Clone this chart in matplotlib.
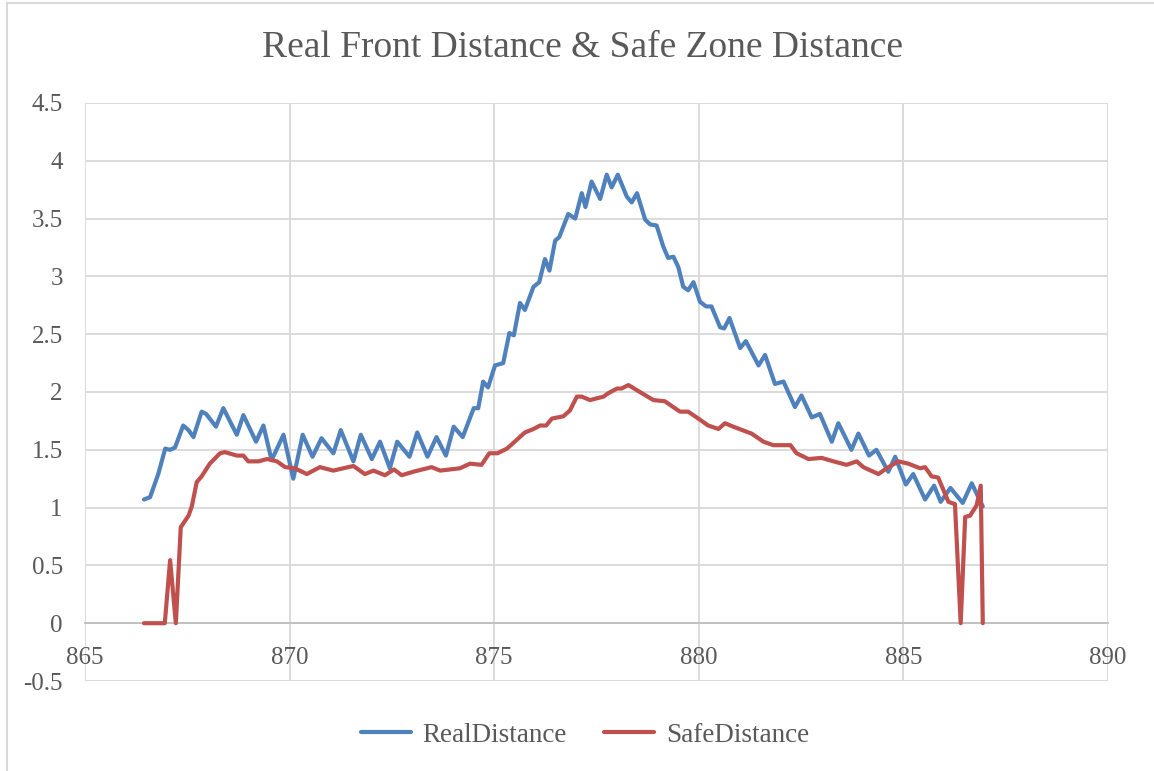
import matplotlib
matplotlib.use("Agg")
import matplotlib.pyplot as plt
from matplotlib.lines import Line2D

# time (s) and distance (m)
real_t = [866.44, 866.59, 866.79, 866.96, 867.08, 867.20, 867.40, 867.53, 867.65, 867.85,
          867.96, 868.20, 868.38, 868.71, 868.87, 869.18, 869.36, 869.56, 869.85, 870.09,
          870.32, 870.56, 870.78, 871.07, 871.25, 871.56, 871.74, 872.01, 872.21, 872.45,
          872.63, 872.93, 873.12, 873.37, 873.59, 873.82, 874.01, 874.23, 874.50, 874.61,
          874.73, 874.85, 875.02, 875.22, 875.37, 875.48, 875.63, 875.75, 875.96, 876.10,
          876.24, 876.35, 876.49, 876.59, 876.81, 876.98, 877.14, 877.23, 877.38, 877.59,
          877.75, 877.87, 878.02, 878.24, 878.36, 878.49, 878.69, 878.81, 878.97, 879.13,
          879.25, 879.38, 879.50, 879.62, 879.74, 879.87, 880.03, 880.18, 880.31, 880.52,
          880.62, 880.75, 881.01, 881.15, 881.46, 881.62, 881.86, 882.07, 882.35, 882.51,
          882.76, 882.96, 883.25, 883.41, 883.73, 883.90, 884.16, 884.34, 884.63, 884.80,
          885.06, 885.24, 885.53, 885.75, 885.91, 886.15, 886.45, 886.67, 886.94]
real_d = [1.07, 1.09, 1.29, 1.51, 1.50, 1.52, 1.71, 1.67, 1.61, 1.83,
          1.81, 1.70, 1.86, 1.63, 1.80, 1.57, 1.71, 1.41, 1.63, 1.25,
          1.63, 1.44, 1.60, 1.47, 1.67, 1.40, 1.63, 1.42, 1.57, 1.34,
          1.57, 1.44, 1.65, 1.44, 1.61, 1.45, 1.70, 1.61, 1.86, 1.86,
          2.09, 2.04, 2.23, 2.25, 2.51, 2.49, 2.77, 2.71, 2.91, 2.95,
          3.15, 3.05, 3.31, 3.34, 3.54, 3.50, 3.72, 3.60, 3.82, 3.67,
          3.88, 3.77, 3.88, 3.69, 3.64, 3.72, 3.49, 3.45, 3.44, 3.26,
          3.16, 3.17, 3.08, 2.91, 2.88, 2.95, 2.78, 2.74, 2.74, 2.56,
          2.55, 2.64, 2.38, 2.44, 2.23, 2.32, 2.07, 2.09, 1.87, 1.97,
          1.78, 1.81, 1.57, 1.73, 1.50, 1.64, 1.45, 1.50, 1.31, 1.44,
          1.20, 1.29, 1.07, 1.19, 1.05, 1.17, 1.04, 1.21, 1.01]

safe_t = [866.44, 866.87, 866.95, 867.08, 867.22, 867.34, 867.53, 867.61, 867.73, 867.85,
          868.05, 868.30, 868.42, 868.71, 868.87, 868.99, 869.24, 869.45, 869.69, 869.89,
          870.13, 870.42, 870.74, 871.07, 871.31, 871.56, 871.84, 872.05, 872.33, 872.55,
          872.74, 873.02, 873.47, 873.68, 874.16, 874.41, 874.69, 874.88, 875.08, 875.31,
          875.47, 875.75, 875.96, 876.12, 876.27, 876.41, 876.69, 876.85, 877.02, 877.14,
          877.34, 877.67, 877.79, 878.00, 878.11, 878.28, 878.56, 878.89, 879.17, 879.54,
          879.74, 880.03, 880.23, 880.48, 880.64, 880.84, 881.29, 881.58, 881.82, 881.98,
          882.24, 882.39, 882.68, 883.00, 883.29, 883.61, 883.86, 884.02, 884.39, 884.59,
          884.88, 885.12, 885.41, 885.53, 885.69, 885.85, 886.10, 886.26, 886.40, 886.51,
          886.63, 886.79, 886.89, 886.94]
safe_d = [0.0, 0.0, 0.0, 0.545, 0.0, 0.83, 0.93, 1.01, 1.22, 1.27,
          1.38, 1.47, 1.48, 1.45, 1.45, 1.40, 1.40, 1.42, 1.40, 1.35,
          1.34, 1.29, 1.35, 1.32, 1.34, 1.36, 1.29, 1.32, 1.28, 1.33,
          1.28, 1.31, 1.35, 1.32, 1.34, 1.38, 1.37, 1.47, 1.47, 1.51,
          1.56, 1.65, 1.68, 1.71, 1.71, 1.77, 1.79, 1.84, 1.96, 1.96,
          1.93, 1.96, 1.99, 2.03, 2.03, 2.06, 2.00, 1.93, 1.92, 1.83,
          1.83, 1.76, 1.71, 1.68, 1.73, 1.70, 1.64, 1.57, 1.54, 1.54,
          1.54, 1.47, 1.42, 1.43, 1.40, 1.37, 1.40, 1.35, 1.29, 1.34,
          1.40, 1.38, 1.34, 1.35, 1.27, 1.26, 1.05, 1.03, 0.0, 0.92,
          0.93, 1.02, 1.19, 0.0]

x_ticks = [865, 870, 875, 880, 885, 890]
y_ticks = [-0.5, 0, 0.5, 1, 1.5, 2, 2.5, 3, 3.5, 4, 4.5]

plt.rcParams['font.family'] = ['Liberation Serif', 'DejaVu Serif']
grey_txt = '#595959'
grid_col = '#D9D9D9'

fig = plt.figure(figsize=(11.54, 7.71), dpi=100)
ax = fig.add_axes([85 / 1154, 1 - 681 / 771, (1108 - 85) / 1154, (681 - 103) / 771])

ax.plot(real_t, real_d, color='#4F81BD', lw=3.0, solid_joinstyle='round',
        solid_capstyle='round', label='RealDistance', zorder=3)
ax.plot(safe_t, safe_d, color='#C0504D', lw=3.0, solid_joinstyle='round',
        solid_capstyle='round', label='SafeDistance', zorder=3)

ax.set_xlim(865, 890)
ax.set_ylim(-0.5, 4.5)
ax.set_xticks(x_ticks)
ax.set_yticks(y_ticks)
ax.set_xticklabels([str(v) for v in x_ticks])
ax.set_yticklabels(['%g' % v for v in y_ticks])
ax.grid(True, color=grid_col, lw=1.3, zorder=0)
ax.set_axisbelow(True)

for s in ['top', 'right', 'left']:
    ax.spines[s].set_visible(False)
ax.spines['bottom'].set_position(('data', 0))
ax.spines['bottom'].set_color('#BFBFBF')
ax.spines['bottom'].set_linewidth(1.3)
ax.spines['bottom'].set_zorder(1)
# bottom edge of the plot area at -0.5 is drawn by the gridline
ax.axhline(-0.5, color=grid_col, lw=1.3, zorder=0)

ax.tick_params(axis='both', length=0, labelsize=18, colors=grey_txt)
ax.tick_params(axis='x', pad=17)
ax.tick_params(axis='y', pad=16)

fig.text(0.505, 1 - 48 / 771, 'Real Front Distance & Safe Zone Distance',
         ha='center', va='center', fontsize=27, color=grey_txt)

fig.legend(loc='center', bbox_to_anchor=(0.507, 1 - 735 / 771), ncol=2, frameon=False,
           fontsize=19.5, handlelength=1.85, handletextpad=0.44, columnspacing=1.37,
           labelcolor=grey_txt)

# outer chart frame (left and top edges visible)
fig.add_artist(Line2D([7 / 1154, 7 / 1154], [0, 1 - 3 / 771], color=grid_col, lw=1.5))
fig.add_artist(Line2D([7 / 1154, 1], [1 - 3 / 771, 1 - 3 / 771], color=grid_col, lw=1.5))

fig.savefig('out.png', dpi=100, facecolor='white')
